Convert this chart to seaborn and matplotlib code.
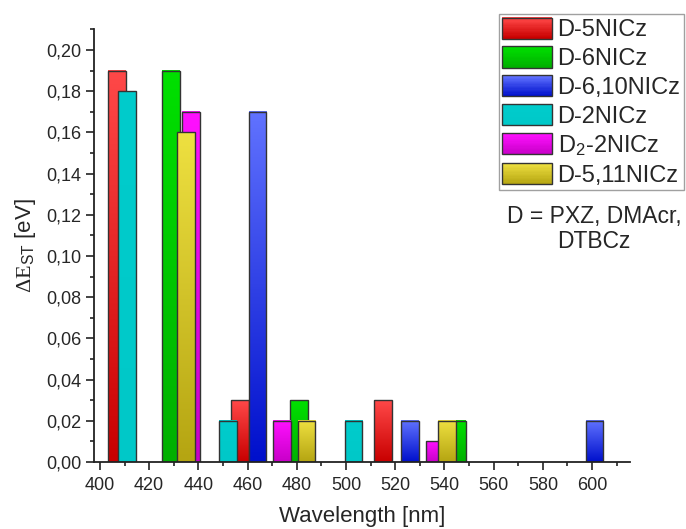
import matplotlib
matplotlib.use("Agg")
import matplotlib.pyplot as plt
import matplotlib.colors as mcolors
from matplotlib.patches import Rectangle, Patch
from matplotlib.legend_handler import HandlerBase
from matplotlib.ticker import MultipleLocator, FuncFormatter
import seaborn as sns
import numpy as np
import pandas as pd

# series names (legend order)
names = ["D-5NICz", "D-6NICz", "D-6,10NICz", "D-2NICz", "D$_2$-2NICz", "D-5,11NICz"]

# emission wavelengths [nm] and dEST [eV] per series
wl_5 = [407, 457, 515]
de_5 = [0.19, 0.03, 0.03]
wl_6 = [429, 481, 545]
de_6 = [0.19, 0.03, 0.02]
wl_610 = [464, 526, 601]
de_610 = [0.17, 0.02, 0.02]
wl_2 = [411, 452, 503]
de_2 = [0.18, 0.02, 0.02]
wl_d2 = [437, 474, 536]
de_d2 = [0.17, 0.02, 0.01]
wl_511 = [435, 484, 541]
de_511 = [0.16, 0.02, 0.02]

# gradient (top, bottom) colours for each series
grads = [("#ff4848", "#c80000"),
         ("#00e000", "#00b000"),
         ("#6072ff", "#0010cc"),
         ("#00cccc", "#00c8c8"),
         ("#ff10ff", "#c800c8"),
         ("#eee040", "#b5a512")]

all_wl = [wl_5, wl_6, wl_610, wl_2, wl_d2, wl_511]
all_de = [de_5, de_6, de_610, de_2, de_d2, de_511]
df = pd.concat([pd.DataFrame({"wl": w, "de": d, "name": n})
                for w, d, n in zip(all_wl, all_de, names)], ignore_index=True)

sns.set_style("ticks")
plt.rcParams["font.family"] = ["Liberation Sans", "DejaVu Sans"]
plt.rcParams["mathtext.fontset"] = "custom"
plt.rcParams["mathtext.rm"] = "Liberation Serif"
plt.rcParams["mathtext.sf"] = "Liberation Sans"
plt.rcParams["mathtext.default"] = "regular"

fig = plt.figure(figsize=(6.86, 5.29), dpi=100)
ax = fig.add_axes([94 / 686, 1 - 462 / 529, 536 / 686, 432.6 / 529])

bar_nm = 7.2
native = np.diff(np.unique(df["wl"])).min()
sns.barplot(data=df, x="wl", y="de", hue="name", hue_order=names,
            palette=[g[0] for g in grads], native_scale=True, dodge=False,
            width=bar_nm / native, legend=False, errorbar=None, ax=ax)

# paint vertical gradients into the bars
n_per = [len(w) for w in all_wl]
series_idx = np.repeat(np.arange(len(names)), n_per)
bars = [p for p in ax.patches if isinstance(p, Rectangle)]
for k, (p, s) in enumerate(zip(bars, series_idx)):
    x0, y0 = p.get_x(), p.get_y()
    w, h = p.get_width(), p.get_height()
    cmap = mcolors.LinearSegmentedColormap.from_list("g", [grads[s][1], grads[s][0]])
    img = cmap(np.linspace(0, 1, 64))[:, :3].reshape(64, 1, 3)
    ax.imshow(img, extent=[x0, x0 + w, y0, y0 + h], origin="lower",
              aspect="auto", zorder=1 + 0.05 * k, interpolation="bilinear")
    p.set_facecolor("none")
    p.set_edgecolor("#333333")
    p.set_linewidth(1.0)
    p.set_zorder(1.02 + 0.05 * k)

ax.set_xlim(397.6, 615.4)
ax.set_ylim(0, 0.21)
ax.xaxis.set_major_locator(MultipleLocator(20))
ax.xaxis.set_minor_locator(MultipleLocator(10))
ax.yaxis.set_major_locator(MultipleLocator(0.02))
ax.yaxis.set_minor_locator(MultipleLocator(0.01))
ax.yaxis.set_major_formatter(FuncFormatter(lambda v, p: f"{v:.2f}".replace(".", ",")))
ax.xaxis.set_major_formatter(FuncFormatter(lambda v, p: f"{v:.0f}"))
ax.tick_params(which="major", length=5.5, width=1.2, labelsize=13, color="#222222")
ax.tick_params(axis="x", which="major", pad=5)
ax.tick_params(which="minor", length=3, width=1.2, color="#222222")
for sp in ["top", "right"]:
    ax.spines[sp].set_visible(False)
for sp in ["left", "bottom"]:
    ax.spines[sp].set_linewidth(1.3)
    ax.spines[sp].set_color("#222222")

ax.set_xlabel("Wavelength [nm]", fontsize=16, labelpad=9)
ax.set_ylabel(r"$\mathrm{\Delta E}_{\mathsf{ST}}$ [eV]", fontsize=16, labelpad=6)


class GradHandler(HandlerBase):
    def create_artists(self, legend, orig, xd, yd, width, height, fontsize, trans):
        top, bot = orig.grad
        cmap = mcolors.LinearSegmentedColormap.from_list("g", [bot, top])
        n = 16
        arts = []
        for i in range(n):
            arts.append(Rectangle((-xd, -yd + height * i / n), width, height / n + 0.3,
                                  facecolor=cmap(i / (n - 1)), edgecolor="none",
                                  transform=trans))
        arts.append(Rectangle((-xd, -yd), width, height, facecolor="none",
                              edgecolor="#333333", lw=1.0, transform=trans))
        return arts


handles = []
for n, g in zip(names, grads):
    h = Patch(label=n)
    h.grad = g
    handles.append(h)

leg = fig.legend(handles=handles, handler_map={Patch: GradHandler()},
                 loc="upper right", bbox_to_anchor=(684 / 686, 1 - 14 / 529),
                 borderaxespad=0, fontsize=17, frameon=True, fancybox=False,
                 edgecolor="#888888", handlelength=2.1, handleheight=1.0,
                 labelspacing=0.22, handletextpad=0.25, borderpad=0.15)
leg.get_frame().set_linewidth(1.0)

fig.text(594 / 686, 1 - 229 / 529, "D = PXZ, DMAcr,\nDTBCz", ha="center",
         va="center", fontsize=16.5, linespacing=1.1)

fig.savefig("out.png", dpi=100)
